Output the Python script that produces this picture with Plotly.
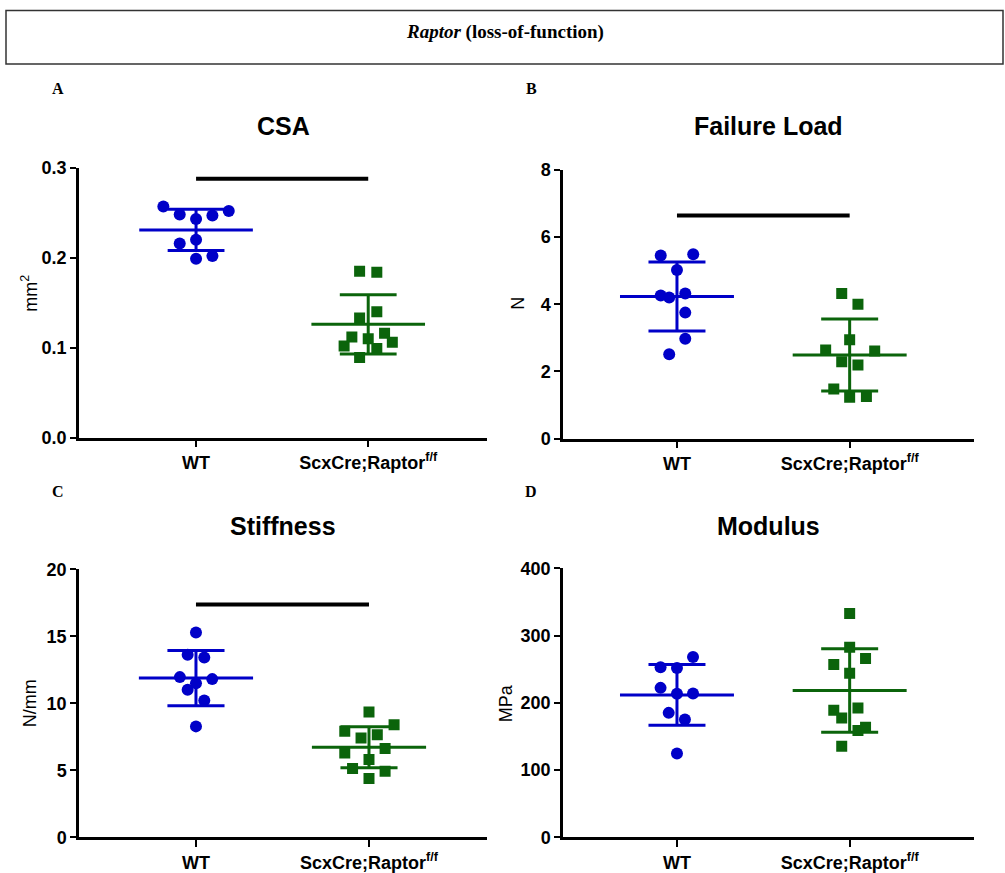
import plotly.graph_objects as go

# ---------------- data ----------------
groups = ["WT", "ScxCre;Raptor<sup>f/f</sup>"]

csa_wt = [0.257, 0.252, 0.248, 0.247, 0.243, 0.220, 0.216, 0.202, 0.199]
csa_wt_jit = [-0.19, 0.19, -0.095, 0.095, 0, 0, -0.095, 0.095, 0]
csa_ko = [0.185, 0.184, 0.140, 0.133, 0.116, 0.112, 0.110, 0.106, 0.102, 0.099, 0.089]
csa_ko_jit = [-0.05, 0.05, 0.05, -0.05, 0.095, -0.095, 0, 0.14, -0.14, 0.05, -0.05]
csa_mean = [0.231, 0.126]
csa_sd = [0.023, 0.033]
csa_sig = 0.288

fl_wt = [5.45, 5.49, 5.02, 4.26, 4.20, 4.32, 3.75, 2.97, 2.51]
fl_wt_jit = [-0.094, 0.094, 0, -0.094, -0.045, 0.048, 0.048, 0.048, -0.045]
fl_ko = [4.32, 4.00, 2.94, 2.64, 2.61, 2.29, 2.19, 1.48, 1.23, 1.25]
fl_ko_jit = [-0.046, 0.048, 0, -0.139, 0.145, -0.046, 0.048, -0.092, 0, 0.097]
fl_mean = [4.23, 2.49]
fl_sd = [1.03, 1.07]
fl_sig = 6.64

st_wt = [15.30, 13.63, 13.43, 11.96, 11.81, 11.51, 11.02, 10.22, 8.28]
st_wt_jit = [0, -0.048, 0.048, -0.093, 0.094, 0, -0.048, 0.048, 0]
st_ko = [9.35, 8.41, 7.91, 7.66, 7.41, 6.62, 6.29, 5.80, 5.13, 4.93, 4.38]
st_ko_jit = [0, 0.145, -0.14, 0.048, -0.046, 0.093, -0.14, 0, -0.095, 0.093, 0]
st_mean = [11.89, 6.72]
st_sd = [2.06, 1.53]
st_sig = 17.39

mod_wt = [268.4, 253.1, 252.0, 222.3, 213.4, 214.0, 185.1, 175.2, 124.6]
mod_wt_jit = [0.093, -0.095, 0, -0.095, 0, 0.093, -0.048, 0.046, 0]
mod_ko = [333.0, 282.9, 257.1, 266.0, 244.2, 189.1, 177.6, 192.5, 158.9, 163.8, 135.5]
mod_ko_jit = [0, 0, -0.092, 0.092, 0, -0.092, -0.046, 0.048, 0.048, 0.092, -0.046]
mod_mean = [211.8, 218.4]
mod_sd = [45.2, 62.0]
mod_sig = None

panels = [
    dict(title="CSA", ytitle="mm<sup>2</sup>", wt=csa_wt, wtj=csa_wt_jit, ko=csa_ko, koj=csa_ko_jit,
         mean=csa_mean, sd=csa_sd, sig=csa_sig, yrange=[0, 0.3], dtick=0.1, fmt=".1f"),
    dict(title="Failure Load", ytitle="N", wt=fl_wt, wtj=fl_wt_jit, ko=fl_ko, koj=fl_ko_jit,
         mean=fl_mean, sd=fl_sd, sig=fl_sig, yrange=[0, 8], dtick=2, fmt="d"),
    dict(title="Stiffness", ytitle="N/mm", wt=st_wt, wtj=st_wt_jit, ko=st_ko, koj=st_ko_jit,
         mean=st_mean, sd=st_sd, sig=st_sig, yrange=[0, 20], dtick=5, fmt="d"),
    dict(title="Modulus", ytitle="MPa", wt=mod_wt, wtj=mod_wt_jit, ko=mod_ko, koj=mod_ko_jit,
         mean=mod_mean, sd=mod_sd, sig=mod_sig, yrange=[0, 400], dtick=100, fmt="d"),
]

# ---------------- layout constants ----------------
W, H = 1005, 873
BLUE = "#0000C8"
GREEN = "#0B640B"


def vy(y):
    # vertical pixel position -> paper fraction (with empirical correction)
    yy = (y - 8) / 0.978
    return min(1.0, max(0.0, 1 - yy / H))


# pixel boxes: (x0, x1, ytop, ybottom)
boxes = [(79, 487, 166, 436), (563, 974, 168, 437), (79, 487, 568, 836), (563, 974, 567, 836)]
xranges = [[-0.68, 1.69], [-0.66, 1.72], [-0.676, 1.682], [-0.66, 1.72]]
letters = [("A", 58, 87), ("B", 531, 87), ("C", 58, 490), ("D", 531, 490)]
ytitle_pos = [(30, 292), (518, 302), (30, 702), (506, 702)]
title_y = [124, 124, 524, 524]

MEAN_HW = 0.33
CAP_HW = 0.165

fig = go.Figure()
annotations = []
shapes = []

for i, p in enumerate(panels):
    n = "" if i == 0 else str(i + 1)
    xa, ya = "x" + n, "y" + n
    colors = [BLUE, GREEN]
    for g in range(2):
        m, s = p["mean"][g], p["sd"][g]
        lx = [g - MEAN_HW, g + MEAN_HW, None, g, g, None,
              g - CAP_HW, g + CAP_HW, None, g - CAP_HW, g + CAP_HW]
        ly = [m, m, None, m - s, m + s, None,
              m + s, m + s, None, m - s, m - s]
        fig.add_trace(go.Scatter(x=lx, y=ly, mode="lines", xaxis=xa, yaxis=ya,
                                 line=dict(color=colors[g], width=3), hoverinfo="skip",
                                 showlegend=False))
    fig.add_trace(go.Scatter(x=[0 + j for j in p["wtj"]], y=p["wt"], mode="markers",
                             xaxis=xa, yaxis=ya, showlegend=False,
                             marker=dict(symbol="circle", size=12, color=BLUE)))
    fig.add_trace(go.Scatter(x=[1 + j for j in p["koj"]], y=p["ko"], mode="markers",
                             xaxis=xa, yaxis=ya, showlegend=False,
                             marker=dict(symbol="square", size=11, color=GREEN)))
    if p["sig"] is not None:
        fig.add_trace(go.Scatter(x=[0, 1], y=[p["sig"], p["sig"]], mode="lines",
                                 xaxis=xa, yaxis=ya, showlegend=False, hoverinfo="skip",
                                 line=dict(color="black", width=4)))

    x0, x1, yt, yb = boxes[i]
    dom_x = [x0 / W, x1 / W]
    dom_y = [vy(yb), vy(yt)]
    fig.update_layout(**{
        ("xaxis" + n): dict(domain=dom_x, anchor=ya, range=xranges[i],
                            tickvals=[0, 1], ticktext=groups, showline=True,
                            linecolor="black", linewidth=2.5, ticks="outside",
                            ticklen=7, tickwidth=2, tickcolor="black",
                            showgrid=False, zeroline=False,
                            tickfont=dict(family="Liberation Sans", size=18, color="black",
                                          weight="bold")),
        ("yaxis" + n): dict(domain=dom_y, anchor=xa, range=p["yrange"], dtick=p["dtick"],
                            tick0=0, tickformat=p["fmt"], showline=True, linecolor="black",
                            linewidth=2.5, ticks="outside", ticklen=6, tickwidth=2,
                            tickcolor="black", showgrid=False, zeroline=False,
                            tickfont=dict(family="Liberation Sans", size=18, color="black",
                                          weight="bold")),
    })
    annotations.append(dict(text="<b>" + p["title"] + "</b>", x=(x0 + x1) / 2 / W,
                            y=vy(title_y[i]), xref="paper", yref="paper",
                            showarrow=False, xanchor="center", yanchor="middle",
                            font=dict(family="Liberation Sans", size=25, color="black")))
    tx, ty = ytitle_pos[i]
    annotations.append(dict(text=p["ytitle"], x=tx / W, y=vy(ty), xref="paper",
                            yref="paper", showarrow=False, textangle=-90,
                            xanchor="center", yanchor="middle",
                            font=dict(family="Liberation Sans", size=18, color="black")))
    L, lxp, lyp = letters[i]
    annotations.append(dict(text="<b>" + L + "</b>", x=lxp / W, y=vy(lyp), xref="paper",
                            yref="paper", showarrow=False, xanchor="center",
                            yanchor="middle",
                            font=dict(family="Liberation Serif", size=16, color="black")))

# header box
shapes.append(dict(type="rect", xref="paper", yref="paper", x0=6 / W, x1=1003 / W,
                   y0=vy(62), y1=vy(8.5), line=dict(color="#333333", width=1.5)))
annotations.append(dict(text="<b><i>Raptor</i> (loss-of-function)</b>", x=505 / W,
                        y=vy(30), xref="paper", yref="paper", showarrow=False,
                        xanchor="center", yanchor="middle",
                        font=dict(family="Liberation Serif", size=19, color="black")))

fig.update_layout(width=W, height=H, margin=dict(l=0, r=0, t=0, b=0),
                  paper_bgcolor="white", plot_bgcolor="white",
                  annotations=annotations, shapes=shapes, showlegend=False)

fig.write_html(
    "out.html",
    config={"displayModeBar": False},
    post_script=(
        "document.documentElement.style.margin='0';"
        "document.body.style.margin='0';document.body.style.overflow='hidden';"
        "var d=document.querySelector('.plotly-graph-div');"
        "d.style.position='fixed';d.style.top='0px';d.style.left='0px';"
    ),
)
